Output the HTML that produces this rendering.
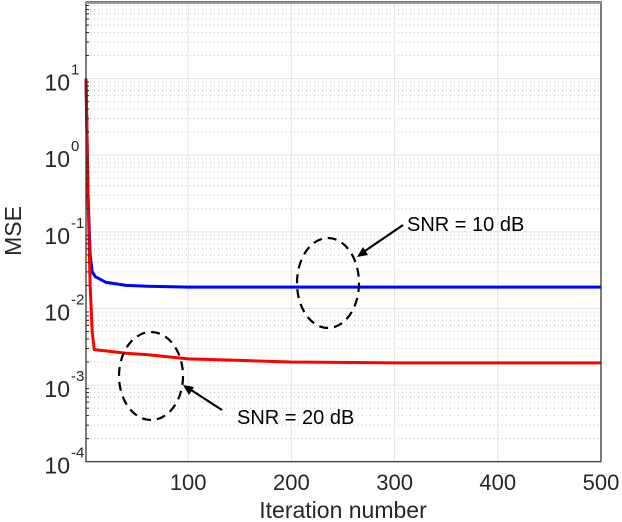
<!DOCTYPE html>
<html><head><meta charset="utf-8"><style>
html,body{margin:0;padding:0;background:#fff;}
svg{display:block;font-family:"Liberation Sans",sans-serif;}
</style></head><body>
<svg id="chart" width="622" height="522" viewBox="0 0 622 522">
<g id="grid"></g>
<g id="series"></g>
<g id="axes"></g>
<g>
<ellipse cx="328" cy="283" rx="31" ry="45" fill="none" stroke="#000" stroke-width="2.2" stroke-dasharray="9,6"/>
<ellipse cx="151" cy="376" rx="32" ry="44" fill="none" stroke="#000" stroke-width="2.2" stroke-dasharray="9,6"/>
<line x1="403" y1="225" x2="362" y2="253" stroke="#000" stroke-width="2.2"/>
<polygon points="357,257 363,247 368,255" fill="#000"/>
<line x1="222" y1="410" x2="188" y2="388" stroke="#000" stroke-width="2.2"/>
<polygon points="183,385 194,387 189,395" fill="#000"/>
<text x="407" y="231" font-size="20" fill="#000">SNR = 10 dB</text>
<text x="237" y="424" font-size="20" fill="#000">SNR = 20 dB</text>
</g>
</svg>
<script>
const xTicks=[100,200,300,400,500];
const yDecades=[-4,-3,-2,-1,0,1,2];
const blueIter=[1,3,5,7,10,20,40,60,100,200,300,400,500];
const blueMSE=[10,0.3,0.05,0.030,0.026,0.022,0.020,0.0195,0.019,0.019,0.019,0.019,0.019];
const redIter=[1,3,5,7,9,20,40,60,100,150,200,300,400,500];
const redMSE=[10,0.3,0.02,0.005,0.0029,0.0028,0.0026,0.0025,0.0022,0.0021,0.0020,0.00195,0.00195,0.00195];
const L=86,R=601,T=2,B=461.7,xmin=1,xmax=500,lmin=-4,lmax=2;
const X=v=>L+(v-xmin)/(xmax-xmin)*(R-L);
const Y=v=>B-(Math.log10(v)-lmin)/(lmax-lmin)*(B-T);
const NS="http://www.w3.org/2000/svg";
function mk(p,t,a){const e=document.createElementNS(NS,t);for(const k in a)e.setAttribute(k,a[k]);p.appendChild(e);return e;}
const grid=document.getElementById('grid'),axes=document.getElementById('axes'),ser=document.getElementById('series');
for(const d of yDecades){
  if(d<lmax){for(let m=2;m<=9;m++){const y=Y(m*Math.pow(10,d));
    const g=mk(grid,'line',{x1:L,x2:R,y1:y,y2:y,stroke:'#c8c8c8','stroke-width':1,'stroke-dasharray':'1,3'});
    
    
    const t=mk(axes,'line',{x1:L,x2:L+3,y1:y,y2:y,stroke:'#262626'});
    
    }}
  const y=Y(Math.pow(10,d));
  const g=mk(grid,'line',{x1:L,x2:R,y1:y,y2:y,stroke:'#e3e3e3','stroke-width':1});
  
  
  if(d<lmax){
  const tx=mk(axes,'text',{x:70,y:y+12,'font-size':23,fill:'#262626','text-anchor':'end'});
  tx.textContent='10';
  
  
  const sp=mk(axes,'text',{x:71,y:y-4,'font-size':15,fill:'#262626'});sp.textContent=String(d);
  
  }
}
for(const v of xTicks){const x=X(v);
  const g=mk(grid,'line',{x1:x,x2:x,y1:T,y2:B,stroke:'#e3e3e3'});
  
  
  const t=mk(axes,'text',{x:x,y:490,'font-size':22,fill:'#262626','text-anchor':'middle'});t.textContent=v;
  
  }
const box=mk(axes,'path',{d:`M${L},${T}H${R}V${B}M${L},${T}V${B}H${R}`,fill:'none',stroke:'#262626','stroke-width':1.2});


const topBorder=mk(axes,'line',{x1:L,x2:R,y1:T+1,y2:T+1,stroke:'#999','stroke-width':2});


const xl=mk(axes,'text',{x:343,y:518,'font-size':23,fill:'#262626','text-anchor':'middle'});xl.textContent='Iteration number';


const yl=mk(axes,'text',{x:0,y:0,'font-size':23,fill:'#262626','text-anchor':'middle',transform:'translate(21,231) rotate(-90)'});yl.textContent='MSE';


function line(xs,ys,c,n){const p=mk(ser,'polyline',{points:xs.map((v,i)=>X(v)+','+Y(ys[i])).join(' '),fill:'none',stroke:c,'stroke-width':3,'stroke-linejoin':'round'});
  
  }
line(blueIter,blueMSE,'#0000ff','snr10-line');
line(redIter,redMSE,'#ff0000','snr20-line');
</script>
</body></html>
